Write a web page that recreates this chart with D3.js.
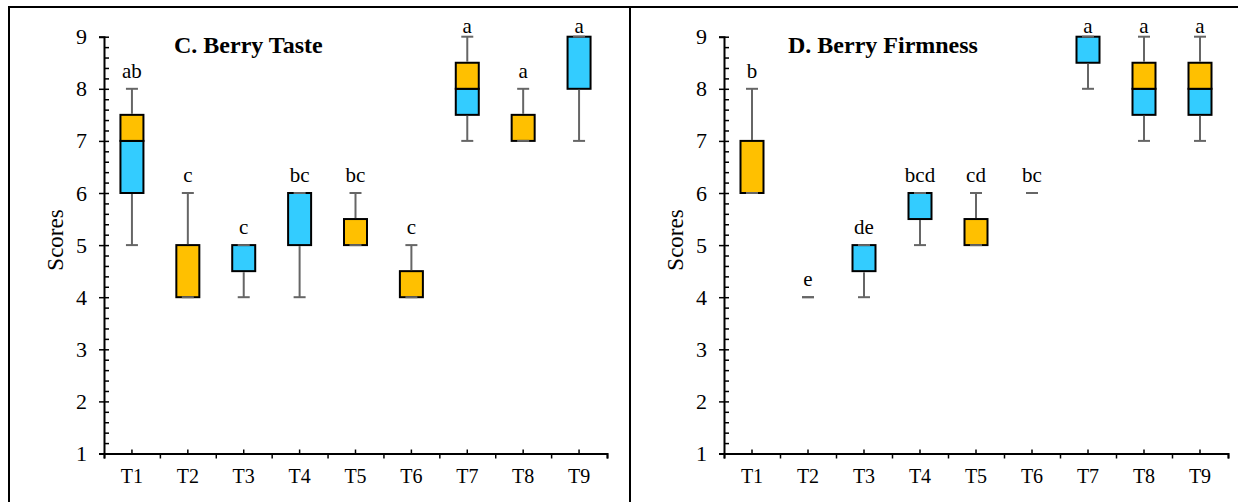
<!DOCTYPE html>
<html>
<head>
<meta charset="utf-8">
<script src="https://cdn.jsdelivr.net/npm/d3@7"></script>
<style>
  html, body { margin: 0; padding: 0; background: #fff; }
  svg { display: block; }
  svg text { font-family: "Liberation Serif", "Times New Roman", Times, "DejaVu Serif", serif !important; fill: #000; }
</style>
</head>
<body>
<svg id="chart" width="1238" height="502"></svg>
<script>
// ---------- data ----------
const categories = ["T1", "T2", "T3", "T4", "T5", "T6", "T7", "T8", "T9"];
const yTickValues = [1, 2, 3, 4, 5, 6, 7, 8, 9];

const tasteMin    = [5, 4, 4,   4,   5,   4,   7,   7,   7];
const tasteQ1     = [6, 4, 4.5, 5,   5,   4,   7.5, 7,   8];
const tasteMedian = [7, 4, 5,   6,   5,   4,   8,   7,   9];
const tasteQ3     = [7.5, 5, 5, 6,   5.5, 4.5, 8.5, 7.5, 9];
const tasteMax    = [8, 6, 5,   6,   6,   5,   9,   8,   9];
const tasteLetters = ["ab", "c", "c", "bc", "bc", "c", "a", "a", "a"];

const firmMin    = [6, 4, 4,   5,   5,   6, 8,   7,   7];
const firmQ1     = [6, 4, 4.5, 5.5, 5,   6, 8.5, 7.5, 7.5];
const firmMedian = [6, 4, 5,   6,   5,   6, 9,   8,   8];
const firmQ3     = [7, 4, 5,   6,   5.5, 6, 9,   8.5, 8.5];
const firmMax    = [8, 4, 5,   6,   6,   6, 9,   9,   9];
const firmLetters = ["b", "e", "de", "bcd", "cd", "bc", "a", "a", "a"];

const panelTitles = ["C. Berry Taste", "D. Berry Firmness"];
const yLabel = "Scores";

// ---------- styles ----------
const BLUE = "#33CCFF";
const ORANGE = "#FFC000";
const WHISKER = "#666666";
const SERIF = '"Liberation Serif", "Times New Roman", Times, "DejaVu Serif", serif';

const svg = d3.select("#chart").attr("font-family", SERIF);

// outer frame + divider
svg.append("rect")
  .attr("x", 9).attr("y", 7)
  .attr("width", 1260).attr("height", 530)
  .attr("fill", "none").attr("stroke", "#000").attr("stroke-width", 2);
svg.append("line")
  .attr("x1", 630).attr("x2", 630).attr("y1", 7).attr("y2", 502)
  .attr("stroke", "#000").attr("stroke-width", 2);

function buildRows(mins, q1s, meds, q3s, maxs, letters) {
  return categories.map((c, i) => ({
    cat: c, min: mins[i], q1: q1s[i], med: meds[i], q3: q3s[i], max: maxs[i], letter: letters[i]
  }));
}

const panels = [
  { left: 104, right: 607, titleX: 174, title: panelTitles[0],
    rows: buildRows(tasteMin, tasteQ1, tasteMedian, tasteQ3, tasteMax, tasteLetters) },
  { left: 724, right: 1228, titleX: 788, title: panelTitles[1],
    rows: buildRows(firmMin, firmQ1, firmMedian, firmQ3, firmMax, firmLetters) }
];

const plotTop = 36.7, plotBottom = 453.5;

panels.forEach(p => {
  const g = svg.append("g");
  const x = d3.scaleBand().domain(categories).range([p.left, p.right]).paddingInner(0).paddingOuter(0);
  const xLin = d3.scaleLinear().domain([0, categories.length]).range([p.left, p.right]);
  const y = d3.scaleLinear().domain([1, 9]).range([plotBottom, plotTop]);
  const bw = 23;
  const capW = 12;

  // boxes
  const boxes = g.append("g");
  p.rows.forEach(d => {
    const cx = x(d.cat) + x.bandwidth() / 2;
    if (d.med > d.q1) {
      boxes.append("rect")
        .attr("x", cx - bw / 2).attr("y", y(d.med))
        .attr("width", bw).attr("height", y(d.q1) - y(d.med))
        .attr("fill", BLUE).attr("stroke", "#000").attr("stroke-width", 2);
    }
    if (d.q3 > d.med) {
      boxes.append("rect")
        .attr("x", cx - bw / 2).attr("y", y(d.q3))
        .attr("width", bw).attr("height", y(d.med) - y(d.q3))
        .attr("fill", ORANGE).attr("stroke", "#000").attr("stroke-width", 2);
    }
  });

  // whiskers and caps
  const wh = g.append("g").attr("stroke", WHISKER).attr("stroke-width", 2);
  p.rows.forEach(d => {
    const cx = x(d.cat) + x.bandwidth() / 2;
    if (d.max > d.q3) {
      wh.append("line").attr("x1", cx).attr("x2", cx).attr("y1", y(d.q3) - 1).attr("y2", y(d.max));
    }
    if (d.q1 > d.min) {
      wh.append("line").attr("x1", cx).attr("x2", cx).attr("y1", y(d.q1) + 1).attr("y2", y(d.min));
    }
    wh.append("line").attr("x1", cx - capW / 2).attr("x2", cx + capW / 2).attr("y1", y(d.max)).attr("y2", y(d.max));
    wh.append("line").attr("x1", cx - capW / 2).attr("x2", cx + capW / 2).attr("y1", y(d.min)).attr("y2", y(d.min));
  });

  // letters
  g.append("g").selectAll("text").data(p.rows).enter().append("text")
    .attr("x", d => x(d.cat) + x.bandwidth() / 2)
    .attr("y", d => d.max >= 9 ? 33 : y(d.max) - 11)
    .attr("text-anchor", "middle")
    .attr("font-family", SERIF)
    .style("font-size", "21px")
    .text(d => d.letter);

  // y axis: major ticks outside, minor ticks inside
  const yAxisG = g.append("g").attr("transform", `translate(${p.left},0)`)
    .call(d3.axisLeft(y).tickValues(yTickValues).tickSize(5).tickPadding(12).tickFormat(d3.format("d")));
  const minor = d3.range(1, 9.0001, 0.2);
  const yMinorG = g.append("g").attr("transform", `translate(${p.left},0)`)
    .call(d3.axisRight(y).tickValues(minor).tickSize(5).tickFormat(""));

  // x axis: boundaries ticks down, center ticks up
  const xAxisG = g.append("g").attr("transform", `translate(0,${plotBottom})`)
    .call(d3.axisBottom(xLin).tickValues(d3.range(0, categories.length + 1)).tickSize(5).tickFormat(""));
  const xMinorG = g.append("g").attr("transform", `translate(0,${plotBottom})`)
    .call(d3.axisTop(x).tickSize(4).tickFormat(""));
  const xLabG = g.append("g").attr("transform", `translate(0,${plotBottom})`)
    .call(d3.axisBottom(x).tickSize(0).tickPadding(15));
  xLabG.select(".domain").remove();

  [yAxisG, yMinorG, xAxisG, xMinorG, xLabG].forEach(a => a.attr("font-family", SERIF));
  [yAxisG, yMinorG, xAxisG, xMinorG].forEach(a => {
    a.select(".domain").attr("stroke", "#000").attr("stroke-width", 2);
    a.selectAll(".tick line").attr("stroke", "#000").attr("stroke-width", 1.5);
  });
  yAxisG.selectAll("text").style("font-size", "22px").attr("fill", "#000");
  xLabG.selectAll("text").style("font-size", "20px").attr("fill", "#000");
  yMinorG.select(".domain").remove();
  xMinorG.select(".domain").remove();

  // axis title
  g.append("text")
    .attr("transform", `translate(${p.left - 41},240) rotate(-90)`)
    .attr("text-anchor", "middle")
    .attr("font-family", SERIF)
    .style("font-size", "23px")
    .text(yLabel);

  // panel title
  g.append("text")
    .attr("x", p.titleX).attr("y", 53)
    .attr("font-family", SERIF)
    .style("font-size", "24px").style("font-weight", "bold")
    .text(p.title);
});
</script>
</body>
</html>
